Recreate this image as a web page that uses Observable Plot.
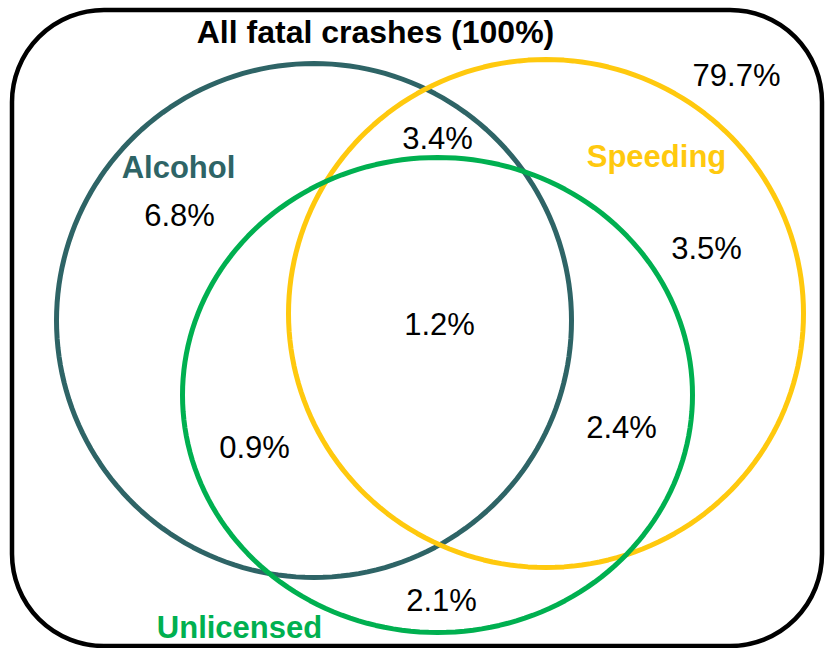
<!DOCTYPE html>
<html>
<head>
<meta charset="utf-8">
<script src="https://cdn.jsdelivr.net/npm/d3@7"></script>
<script src="https://cdn.jsdelivr.net/npm/@observablehq/plot@0.6"></script>
<style>
  html, body { margin: 0; padding: 0; background: #fff; }
  #chart svg { display: block; }
</style>
</head>
<body>
<div id="chart"></div>
<script>
// ---- Data ----
const setNames = ["Alcohol", "Speeding", "Unlicensed"];
const setColors = ["#2E6466", "#FFC90E", "#00B050"];

// Share of all fatal crashes in each Venn region (%)
const regionNames = ["Alcohol only", "Speeding only", "Unlicensed only", "Alcohol & Speeding", "Alcohol & Unlicensed", "Speeding & Unlicensed", "All three", "None"];
const regionValues = [6.8, 3.5, 2.1, 3.4, 0.9, 2.4, 1.2, 79.7];

const titleText = "All fatal crashes (100%)";

// ---- Layout (pixel space of the 825x648 picture) ----
const W = 825, H = 648;
const frameBox = [{x1: 12, x2: 822, y1: 10, y2: 646}];
const setShapes = [ // cx, cy, rx, ry per set
  {cx: 313.5, cy: 320, rx: 257.5, ry: 257},
  {cx: 545.5, cy: 313, rx: 257.5, ry: 254},
  {cx: 437,   cy: 394.5, rx: 255, ry: 237.5}
];
const setLabelPos = [[178, 177], [656, 166], [239, 637]];
const regionLabelPos = [[179, 225], [706, 258], [441, 610], [437, 148], [254, 457], [621, 437], [439, 334], [736, 85]];
const titlePos = [375, 42];

// ---- Build tables ----
const outline = setShapes.flatMap((s, i) =>
  d3.range(0, 361, 2).map(a => ({
    set: setNames[i],
    x: s.cx + s.rx * Math.cos(a * Math.PI / 180),
    y: s.cy + s.ry * Math.sin(a * Math.PI / 180)
  }))
);
const setLabels = setNames.map((name, i) => ({name, x: setLabelPos[i][0], y: setLabelPos[i][1]}));
const regionLabels = regionValues.map((v, i) => ({
  region: regionNames[i], text: v.toFixed(1) + "%", x: regionLabelPos[i][0], y: regionLabelPos[i][1]
}));

const font = "Liberation Sans, Arial, Helvetica, sans-serif";

const chart = Plot.plot({
  width: W,
  height: H,
  margin: 0,
  x: {domain: [0, W], range: [0, W], axis: null},
  y: {domain: [0, H], range: [0, H], axis: null},
  color: {domain: setNames, range: setColors},
  style: {background: "#fff", fontFamily: font},
  marks: [
    Plot.rect(frameBox, {x1: "x1", x2: "x2", y1: "y1", y2: "y2", rx: 92, ry: 92, fill: "none", stroke: "black", strokeWidth: 4.5}),
    Plot.line(outline, {x: "x", y: "y", z: "set", stroke: "set", strokeWidth: 5, curve: "linear-closed"}),
    Plot.text([titleText], {x: () => titlePos[0], y: () => titlePos[1], text: d => d, fontSize: 32, fontWeight: "bold", fill: "black", textAnchor: "middle", lineAnchor: "bottom", fontFamily: font}),
    Plot.text(setLabels, {x: "x", y: "y", text: "name", fill: "name", fontSize: 31, fontWeight: "bold", textAnchor: "middle", lineAnchor: "bottom", fontFamily: font}),
    Plot.text(regionLabels, {x: "x", y: "y", text: "text", fill: "black", fontSize: 31, textAnchor: "middle", lineAnchor: "bottom", fontFamily: font})
  ]
});
document.getElementById("chart").appendChild(chart);
</script>
</body>
</html>
